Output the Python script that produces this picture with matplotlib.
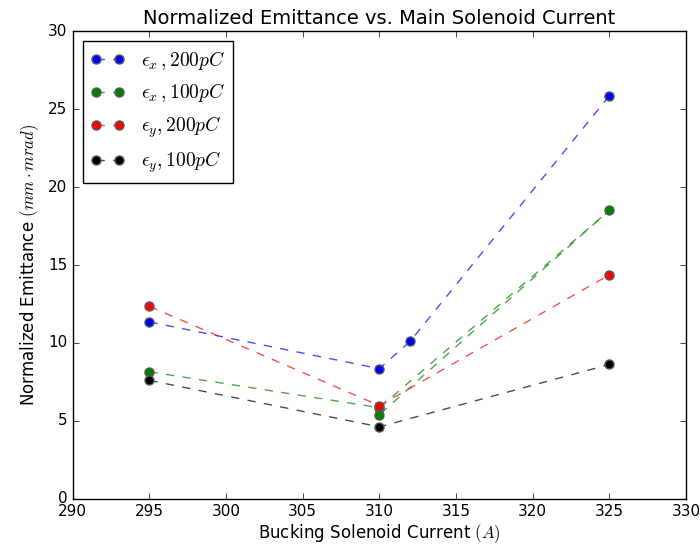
import matplotlib
matplotlib.use("Agg")
import matplotlib.pyplot as plt
from matplotlib.colors import to_rgba

plt.style.use("classic")
plt.rcParams["mathtext.fontset"] = "cm"

# data
ex200_x = [295, 310, 312, 325]
ex200_y = [11.35, 8.35, 10.1, 25.85]
ex100_x = [295, 310, 325, 310]
ex100_y = [8.15, 5.85, 18.5, 5.4]
ey200_x = [295, 310, 325]
ey200_y = [12.35, 5.98, 14.37]
ey100_x = [295, 310, 325]
ey100_y = [7.6, 4.62, 8.62]

series = [
    (ex200_x, ex200_y, "b", r"$\epsilon_x\,,200pC$"),
    (ex100_x, ex100_y, "g", r"$\epsilon_x\,,100pC$"),
    (ey200_x, ey200_y, "r", r"$\epsilon_y,200pC$"),
    (ey100_x, ey100_y, "k", r"$\epsilon_y,100pC$"),
]

fig = plt.figure(figsize=(7.0, 5.47), dpi=100, facecolor="white")
ax = fig.add_axes([0.104, 0.088, 0.876, 0.855])

for xs, ys, c, lab in series:
    ax.plot(xs, ys, "--", color=to_rgba(c, 0.7), marker="o", markersize=6.5,
            markerfacecolor=c, markeredgecolor="0.35", markeredgewidth=1.0,
            label=lab)

ax.set_xlim(290, 330)
ax.set_ylim(0, 30)
ax.set_title("Normalized Emittance vs. Main Solenoid Current", fontsize=14)
ax.set_xlabel(r"Bucking Solenoid Current $(A)$", fontsize=12, labelpad=2)
ax.set_ylabel(r"Normalized Emittance $(mm \cdot mrad)$", fontsize=12)
ax.tick_params(labelsize=11)
ax.legend(loc="upper left", numpoints=2, fontsize=14, handlelength=1.8)

fig.savefig("out.png", dpi=100, facecolor="white")
